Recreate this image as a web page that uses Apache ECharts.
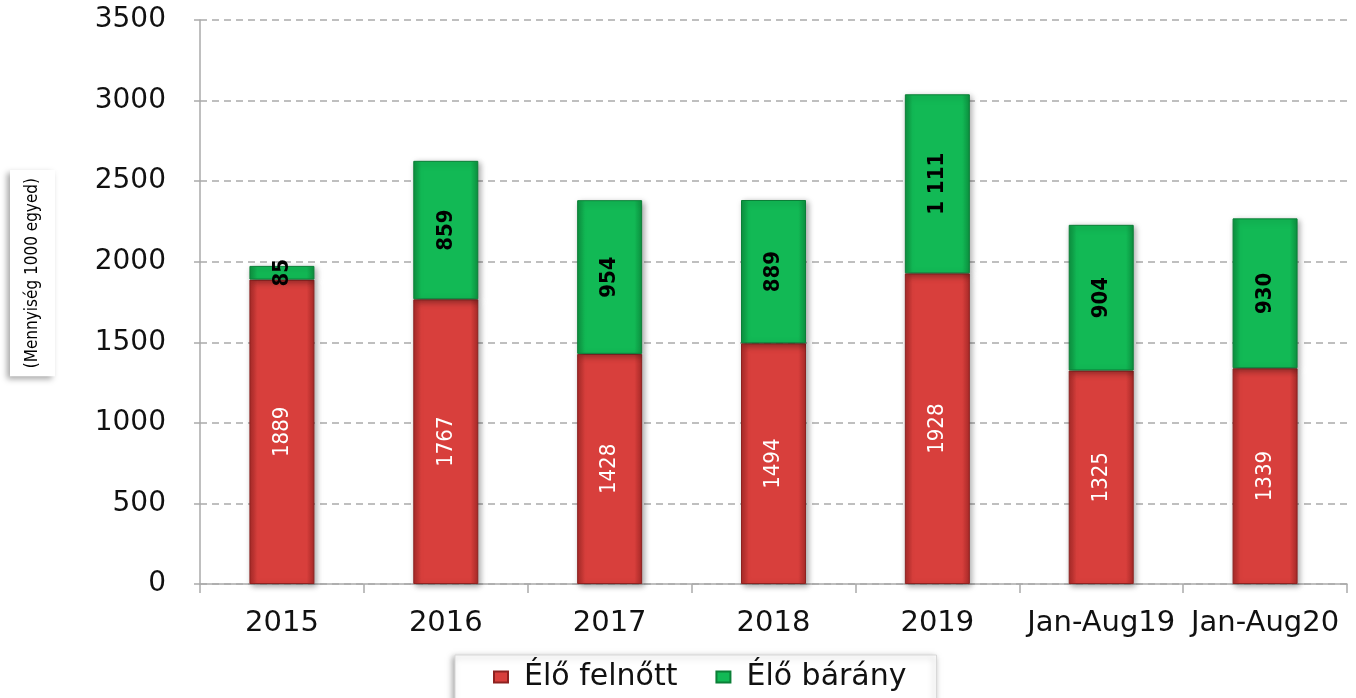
<!DOCTYPE html>
<html>
<head>
<meta charset="utf-8">
<script src="https://cdn.jsdelivr.net/npm/echarts@6/dist/echarts.min.js"></script>
<style>
  html, body { margin: 0; padding: 0; background: #fff; }
  #chart-container { width: 1356px; height: 698px; }
</style>
</head>
<body>
<div id="chart-container"></div>
<script>
const categories = ['2015', '2016', '2017', '2018', '2019', 'Jan-Aug19', 'Jan-Aug20'];
const adultValues = [1889, 1767, 1428, 1494, 1928, 1325, 1339];
const lambValues = [85, 859, 954, 889, 1111, 904, 930];
const lambLabels = ['85', '859', '954', '889', '1 111', '904', '930'];
const yTicks = { min: 0, max: 3500, interval: 500 };

const myChart = echarts.init(document.getElementById('chart-container'));

function barGradient(edge, mid) {
  return new echarts.graphic.LinearGradient(0, 0, 1, 0, [
    { offset: 0, color: edge },
    { offset: 0.12, color: mid },
    { offset: 0.88, color: mid },
    { offset: 1, color: edge }
  ]);
}

const labelFont = "'Liberation Sans Narrow', 'DejaVu Sans Condensed', 'Liberation Sans', sans-serif";
const axisFont = "'DejaVu Sans', Verdana, sans-serif";

myChart.setOption({
  animation: false,
  grid: {
    left: 200,
    right: 9,
    top: 20,
    bottom: 114
  },
  legend: {
    bottom: -24,
    left: 455,
    padding: [7, 30, 30, 38],
    itemWidth: 14,
    itemHeight: 11,
    itemGap: 38,
    icon: 'rect',
    backgroundColor: '#fff',
    borderColor: '#d8d8d8',
    borderWidth: 1,
    shadowBlur: 6,
    shadowColor: 'rgba(0,0,0,0.35)',
    shadowOffsetX: -2,
    shadowOffsetY: 2,
    textStyle: {
      fontFamily: axisFont,
      fontSize: 30,
      color: '#111',
      padding: [0, 0, 0, 11]
    },
    data: ['Élő felnőtt', 'Élő bárány']
  },
  graphic: [
    {
      type: 'text',
      left: 10,
      top: 170,
      rotation: Math.PI / 2,
      style: {
        text: '(Mennyiség 1000 egyed)',
        font: "17px 'Liberation Sans Narrow', 'DejaVu Sans Condensed', sans-serif",
        fill: '#000',
        backgroundColor: '#fff',
        padding: [14, 8, 14, 8],
        shadowBlur: 6,
        shadowColor: 'rgba(0,0,0,0.35)',
        shadowOffsetX: -3,
        shadowOffsetY: 3
      }
    }
  ],
  xAxis: {
    type: 'category',
    data: categories,
    axisLine: { lineStyle: { color: '#aaa', width: 1.5 } },
    axisTick: { show: true, length: 9, alignWithLabel: false, lineStyle: { color: '#aaa', width: 1.5 } },
    axisLabel: {
      margin: 25,
      fontFamily: axisFont,
      fontSize: 29,
      color: '#111',
      interval: 0
    }
  },
  yAxis: {
    type: 'value',
    min: yTicks.min,
    max: yTicks.max,
    interval: yTicks.interval,
    axisLine: { show: true, lineStyle: { color: '#aaa', width: 1.5 } },
    axisTick: { show: true, length: 6, lineStyle: { color: '#aaa', width: 1.5 } },
    axisLabel: {
      margin: 34,
      fontFamily: axisFont,
      fontSize: 28,
      color: '#111',
      formatter: v => String(v)
    },
    splitLine: {
      lineStyle: { color: '#aaa', type: [7, 5], width: 1.5 }
    }
  },
  series: [
    {
      name: 'Élő felnőtt',
      type: 'bar',
      stack: 'total',
      barWidth: 65,
      data: adultValues,
      itemStyle: {
        color: barGradient('#a92a28', '#d83f3c'),
        borderColor: '#8d2220',
        borderWidth: 1,
        shadowBlur: 6,
        shadowColor: 'rgba(0,0,0,0.35)',
        shadowOffsetX: 2,
        shadowOffsetY: 2
      },
      label: {
        show: true,
        position: 'inside',
        rotate: 90,
        color: '#fff',
        fontFamily: labelFont,
        fontSize: 22,
        formatter: p => String(p.value)
      }
    },
    {
      name: 'Élő bárány',
      type: 'bar',
      stack: 'total',
      barWidth: 65,
      data: lambValues,
      itemStyle: {
        color: barGradient('#0d9240', '#12b955'),
        borderColor: '#0b7f37',
        borderWidth: 1,
        shadowBlur: 6,
        shadowColor: 'rgba(0,0,0,0.35)',
        shadowOffsetX: 2,
        shadowOffsetY: 2
      },
      label: {
        show: true,
        position: 'inside',
        rotate: 90,
        color: '#000',
        fontFamily: labelFont,
        fontSize: 22,
        fontWeight: 'bold',
        formatter: p => lambLabels[p.dataIndex]
      }
    }
  ]
});
</script>
</body>
</html>
